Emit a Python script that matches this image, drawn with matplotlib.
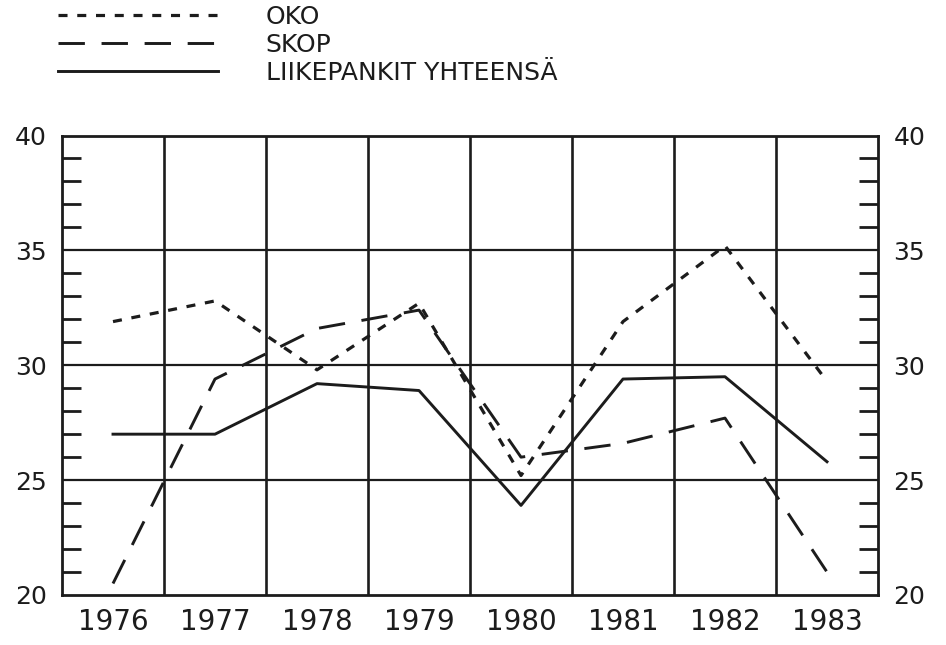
import matplotlib
matplotlib.use('Agg')
import matplotlib.pyplot as plt
from matplotlib.ticker import MultipleLocator

plt.rcParams['font.family'] = ['DejaVu Sans']
plt.rcParams['lines.scale_dashes'] = False

years = ['1976', '1977', '1978', '1979', '1980', '1981', '1982', '1983']
oko = [31.9, 32.8, 29.8, 32.7, 25.2, 31.9, 35.2, 29.3]
skop = [20.5, 29.4, 31.6, 32.4, 26.0, 26.6, 27.7, 21.0]
liikepankit = [27.0, 27.0, 29.2, 28.9, 23.9, 29.4, 29.5, 25.8]

labels = ['OKO', 'SKOP', 'LIIKEPANKIT YHTEENSÄ']
ink = '#1c1c1c'

fig = plt.figure(figsize=(9.46, 6.45), dpi=100)
ax = fig.add_axes([62 / 946, 1 - 595 / 645, 816 / 946, 459.5 / 645])

x = list(range(len(years)))
l1, = ax.plot(x, oko, color=ink, lw=2.3, dashes=(6.5, 7))
l2, = ax.plot(x, skop, color=ink, lw=2.1, dashes=(19, 12))
l3, = ax.plot(x, liikepankit, color=ink, lw=2.1)

ax.set_xlim(-0.5, len(years) - 0.5)
ax.set_ylim(20, 40)

# pystyviivat vuosien väliin
for i in range(len(years) - 1):
    ax.axvline(i + 0.5, color=ink, lw=1.9)
# vaakaviivat viiden välein
for v in range(25, 40, 5):
    ax.axhline(v, color=ink, lw=1.6)

for s in ax.spines.values():
    s.set_linewidth(2.0)
    s.set_color(ink)

ax.set_xticks(x)
ax.set_xticklabels(years, fontsize=20, color=ink)
ax.tick_params(axis='x', length=0, pad=9)

ax.set_yticks(range(20, 41, 5))
ax.yaxis.set_minor_locator(MultipleLocator(1))
ax.tick_params(axis='y', which='major', length=0, labelleft=True,
               labelright=True, labelsize=18, labelcolor=ink, pad=11)
ax.tick_params(axis='y', which='minor', direction='in', length=14, width=2,
               left=True, right=True, color=ink)

fig.legend([l1, l2, l3], labels, loc='upper left',
           bbox_to_anchor=(58 / 946, 1 - 5 / 645), frameon=False,
           fontsize=18, handlelength=6.4, handletextpad=1.9,
           labelspacing=0.16, borderpad=0, borderaxespad=0, labelcolor=ink)

fig.savefig('out.png', dpi=100, facecolor='white')
